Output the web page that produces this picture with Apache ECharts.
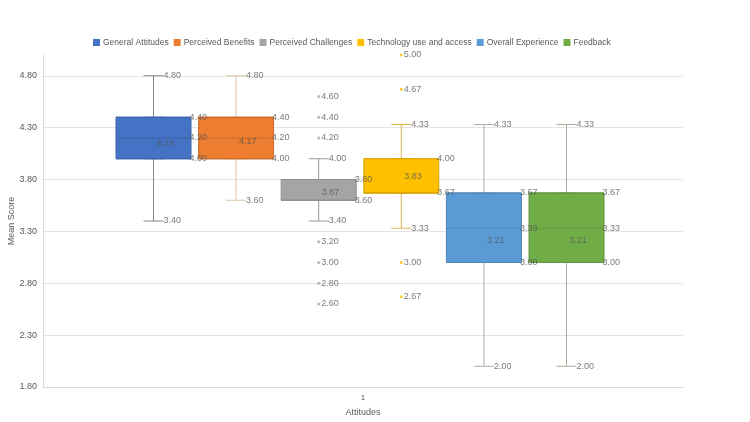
<!DOCTYPE html>
<html>
<head>
<meta charset="utf-8" />
<title>Attitudes box plot</title>
<script src="https://cdn.jsdelivr.net/npm/echarts@6/dist/echarts.min.js"></script>
<style>
  html, body { margin: 0; padding: 0; background: #fff; }
  #main { width: 750px; height: 422px; }
</style>
</head>
<body>
<div id="main"></div>
<script>
// data
var categories = ['1'];
var seriesNames = ['General Attitudes', 'Perceived Benefits', 'Perceived Challenges',
  'Technology use and access', 'Overall Experience', 'Feedback'];
var minVals = [3.40, 3.60, 3.40, 3.33, 2.00, 2.00];
var q1Vals = [4.00, 4.00, 3.60, 3.67, 3.00, 3.00];
var medianVals = [4.20, 4.20, 3.60, 3.67, 3.33, 3.33];
var q3Vals = [4.40, 4.40, 3.80, 4.00, 3.67, 3.67];
var maxVals = [4.80, 4.80, 4.00, 4.33, 4.33, 4.33];
var meanVals = [4.15, 4.17, 3.67, 3.83, 3.21, 3.21];
var outlierVals = [[], [], [4.60, 4.40, 4.20, 3.20, 3.00, 2.80, 2.60], [5.00, 4.67, 3.00, 2.67], [], []];
var yTickLabels = ['1.80', '2.30', '2.80', '3.30', '3.80', '4.30', '4.80'];

// office-like palette
var fillColors = ['#4472C4', '#ED7D31', '#A5A5A5', '#FFC000', '#5B9BD5', '#70AD47'];
var edgeColors = ['#3A62AA', '#CC6A28', '#8E8E8E', '#DBA600', '#4E86B8', '#60953D'];
var whiskerColors = ['#80848C', '#D9C6AA', '#999999', '#D8B452', '#A6AEB6', '#A9AE9C'];

var textColor = '#595959';
var font = 'Liberation Sans';
var yMin = 1.8, yMax = 5.0;

var chart = echarts.init(document.getElementById('main'));

var grids = [{ left: 43, right: 67, top: 55, bottom: 35, outerBoundsMode: 'none' }];
var xAxes = [{
  type: 'category', gridIndex: 0, data: categories,
  name: 'Attitudes', nameLocation: 'middle', nameGap: 21, nameMoveOverlap: false,
  nameTextStyle: { color: textColor, fontSize: 9, fontFamily: font },
  axisLine: { lineStyle: { color: '#d9d9d9' } },
  axisTick: { show: false },
  axisLabel: { color: textColor, fontSize: 8, fontFamily: font, margin: 7 },
  splitLine: { show: false }
}];
var yAxes = [{
  type: 'value', gridIndex: 0, min: yMin, max: yMax, interval: 0.1,
  name: 'Mean Score', nameLocation: 'middle', nameGap: 27, nameMoveOverlap: false,
  nameTextStyle: { color: textColor, fontSize: 9, fontFamily: font },
  axisLine: { show: true, lineStyle: { color: '#d9d9d9' } },
  axisTick: { show: false },
  axisLabel: {
    color: textColor, fontSize: 9, fontFamily: font, margin: 6,
    formatter: function (v) {
      var s = v.toFixed(2);
      return yTickLabels.indexOf(s) >= 0 ? s : '';
    }
  },
  splitLine: {
    show: true,
    lineStyle: { color: ['#e4e4e4', 'rgba(0,0,0,0)', 'rgba(0,0,0,0)', 'rgba(0,0,0,0)', 'rgba(0,0,0,0)'] }
  }
}];
var series = [];

function labelSeries(name, xi, yi, values, dist, color, symbol, size, z) {
  return {
    name: name, type: 'scatter', xAxisIndex: xi, yAxisIndex: yi, z: z || 6,
    silent: true, symbol: symbol || 'circle', symbolSize: size || 0,
    itemStyle: { color: color || 'rgba(0,0,0,0)' },
    label: {
      show: true, position: 'right', distance: dist, color: textColor,
      fontSize: 9, fontFamily: font,
      formatter: function (p) { return p.value[1].toFixed(2); }
    },
    data: values.map(function (v) { return [categories[0], v]; })
  };
}

seriesNames.forEach(function (name, i) {
  var g = i + 1;
  var center = 153.5 + 82.6 * i;
  grids.push({ left: center - 41, width: 82, top: 55, bottom: 35, outerBoundsMode: 'none' });
  var xw = xAxes.length;
  xAxes.push({ type: 'category', gridIndex: g, data: categories, show: false });
  xAxes.push({ type: 'category', gridIndex: g, data: categories, show: false });
  var yi = yAxes.length;
  yAxes.push({ type: 'value', gridIndex: g, min: yMin, max: yMax, show: false, splitLine: { show: false } });

  // whiskers with short caps
  series.push({
    name: name + ' whisker', type: 'boxplot', xAxisIndex: xw, yAxisIndex: yi, z: 2,
    silent: true, boxWidth: [20, 20],
    itemStyle: { color: 'rgba(0,0,0,0)', borderColor: whiskerColors[i], borderWidth: 1 },
    data: [[minVals[i], q1Vals[i], medianVals[i], q3Vals[i], maxVals[i]]]
  });
  // the box itself
  series.push({
    name: name, type: 'boxplot', xAxisIndex: xw + 1, yAxisIndex: yi, z: 3,
    silent: true, boxWidth: [75, 75],
    itemStyle: { color: fillColors[i], borderColor: edgeColors[i], borderWidth: 1 },
    data: [[q1Vals[i], q1Vals[i], medianVals[i], q3Vals[i], q3Vals[i]]]
  });
  // quartile labels at the box edge
  var qs = [q1Vals[i], medianVals[i], q3Vals[i]].filter(function (v, k, a) { return a.indexOf(v) === k; });
  series.push(labelSeries(name + ' quartiles', xw, yi, qs, 36));
  // whisker end labels
  series.push(labelSeries(name + ' ends', xw, yi, [minVals[i], maxVals[i]], 10));
  // mean marker
  series.push(labelSeries(name + ' mean', xw, yi, [meanVals[i]], 1, edgeColors[i],
    'path://M0,0L10,10M10,0L0,10', 4, 7));
  // outliers
  if (outlierVals[i].length) {
    series.push(labelSeries(name + ' outliers', xw, yi, outlierVals[i], 1, fillColors[i], 'circle', 3, 7));
  }
});

chart.setOption({
  backgroundColor: '#fff',
  animation: false,
  legend: {
    top: 33, left: 88,
    icon: 'rect', itemWidth: 7, itemHeight: 7, itemGap: 5,
    textStyle: { color: textColor, fontSize: 8.5, fontFamily: font, padding: [0, 0, 0, -2] },
    data: seriesNames.map(function (n, i) {
      return { name: n, itemStyle: { color: fillColors[i], borderWidth: 0 } };
    })
  },
  grid: grids,
  xAxis: xAxes,
  yAxis: yAxes,
  series: series
});
</script>
</body>
</html>
